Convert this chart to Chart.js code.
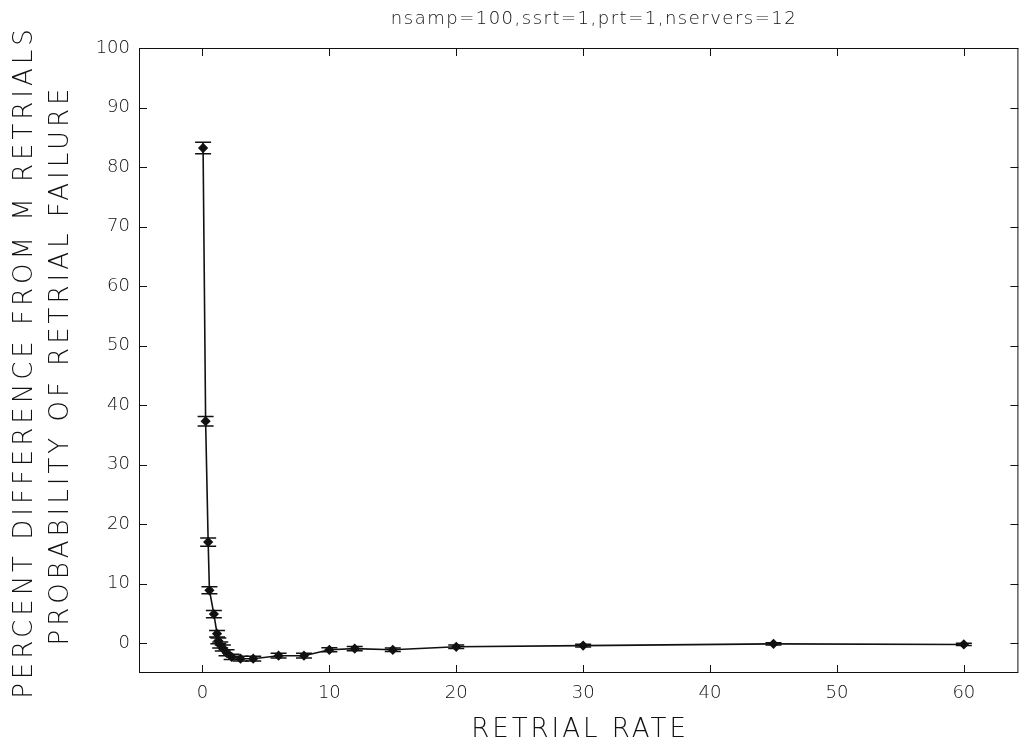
<!DOCTYPE html>
<html>
<head>
<meta charset="utf-8">
<script src="https://cdn.jsdelivr.net/npm/chart.js@4"></script>
<style>
  html, body { margin: 0; padding: 0; background: #fff; }
  #wrap { width: 1024px; height: 751px; }
</style>
</head>
<body>
<div id="wrap"><canvas id="RETRIALCHART"></canvas></div>
<script>
const retrialRate = [0.05, 0.25, 0.45, 0.55, 0.9, 1.15, 1.25, 1.4, 1.6, 1.9, 2.3, 3, 4, 6, 8, 10, 12, 15, 20, 30, 45, 60];
const pctDiff = [83.2, 37.3, 17.0, 8.9, 4.9, 1.6, 0.4, -0.3, -0.8, -1.6, -2.3, -2.6, -2.6, -2.1, -2.1, -1.1, -0.9, -1.1, -0.6, -0.4, -0.1, -0.2];
const errHalf = [0.95, 0.8, 0.7, 0.6, 0.6, 0.55, 0.5, 0.5, 0.5, 0.5, 0.45, 0.4, 0.4, 0.4, 0.4, 0.35, 0.35, 0.3, 0.3, 0.25, 0.2, 0.2];
const xTicks = [0, 10, 20, 30, 40, 50, 60];
const yTicks = [0, 10, 20, 30, 40, 50, 60, 70, 80, 90, 100];
const titleText = 'nsamp=100,ssrt=1,prt=1,nservers=12';
const xLabel = 'RETRIAL RATE';
const yLabel = ['PERCENT DIFFERENCE FROM M RETRIALS', 'PROBABILITY OF RETRIAL FAILURE'];

const FONT = "'DejaVu Sans', sans-serif";
const INK = '#111';

// error bars with caps
const errorBars = {
  id: 'errorBars',
  afterDatasetsDraw(chart) {
    const {ctx, scales: {x, y}} = chart;
    ctx.save();
    ctx.strokeStyle = INK;
    ctx.lineWidth = 1.5;
    retrialRate.forEach((rx, i) => {
      const px = x.getPixelForValue(rx);
      const top = y.getPixelForValue(pctDiff[i] + errHalf[i]);
      const bot = y.getPixelForValue(pctDiff[i] - errHalf[i]);
      ctx.beginPath();
      ctx.moveTo(px, top); ctx.lineTo(px, bot);
      ctx.moveTo(px - 8, top); ctx.lineTo(px + 8, top);
      ctx.moveTo(px - 8, bot); ctx.lineTo(px + 8, bot);
      ctx.stroke();
    });
    ctx.restore();
  }
};

// matlab style box with inward ticks, plus title and axis labels
const boxTicks = {
  id: 'boxTicks',
  afterDraw(chart) {
    const {ctx, chartArea: a, scales: {x, y}} = chart;
    const tl = 8;
    ctx.save();
    ctx.strokeStyle = INK;
    ctx.lineWidth = 1;
    ctx.strokeRect(a.left + 0.5, a.top + 0.5, a.right - a.left - 1, a.bottom - a.top - 1);
    ctx.beginPath();
    xTicks.forEach(v => {
      const px = Math.round(x.getPixelForValue(v)) + 0.5;
      ctx.moveTo(px, a.bottom); ctx.lineTo(px, a.bottom - tl);
      ctx.moveTo(px, a.top); ctx.lineTo(px, a.top + tl);
    });
    yTicks.forEach(v => {
      const py = Math.round(y.getPixelForValue(v)) + 0.5;
      ctx.moveTo(a.left, py); ctx.lineTo(a.left + tl, py);
      ctx.moveTo(a.right, py); ctx.lineTo(a.right - tl, py);
    });
    ctx.stroke();

    ctx.fillStyle = INK;
    ctx.textAlign = 'center';
    ctx.textBaseline = 'middle';
    ctx.font = '200 18px ' + FONT;
    ctx.letterSpacing = '1.5px';
    ctx.fillText(titleText, 594, 19);

    ctx.font = '200 26px ' + FONT;
    ctx.letterSpacing = '3px';
    ctx.fillText(xLabel, 580, 730);
    ctx.letterSpacing = '4px';
    ctx.translate(0, 362);
    ctx.rotate(-Math.PI / 2);
    ctx.fillText(yLabel[0], 0, 25);
    ctx.fillText(yLabel[1], -3, 61);
    ctx.restore();
  }
};

const ctx = document.getElementById('RETRIALCHART');

const retrial_chart = new Chart(ctx, {
  type: 'scatter',
  data: {
    datasets: [{
      label: 'percent difference',
      data: retrialRate.map((v, i) => ({x: v, y: pctDiff[i]})),
      showLine: true,
      borderColor: INK,
      borderWidth: 1.6,
      backgroundColor: INK,
      pointStyle: 'rectRot',
      pointRadius: 4,
      pointHoverRadius: 4
    }]
  },
  options: {
    responsive: true,
    maintainAspectRatio: false,
    animation: false,
    layout: { padding: { left: 0, top: 48, right: 2, bottom: 0 } },
    plugins: { legend: { display: false }, tooltip: { enabled: false } },
    scales: {
      x: {
        type: 'linear',
        min: -5,
        max: 64.3,
        afterBuildTicks: s => { s.ticks = xTicks.map(v => ({value: v})); },
        afterFit: s => { s.height = 78; },
        grid: { display: false, drawTicks: false },
        border: { display: false },
        ticks: { color: INK, font: { family: FONT, size: 18, weight: '200' }, padding: 10 }
      },
      y: {
        min: -5,
        max: 100,
        afterBuildTicks: s => { s.ticks = yTicks.map(v => ({value: v})); },
        afterFit: s => { s.width = 139; },
        grid: { display: false, drawTicks: false },
        border: { display: false },
        ticks: { color: INK, font: { family: FONT, size: 18, weight: '200' }, padding: 9 }
      }
    }
  },
  plugins: [errorBars, boxTicks]
});
</script>
</body>
</html>
